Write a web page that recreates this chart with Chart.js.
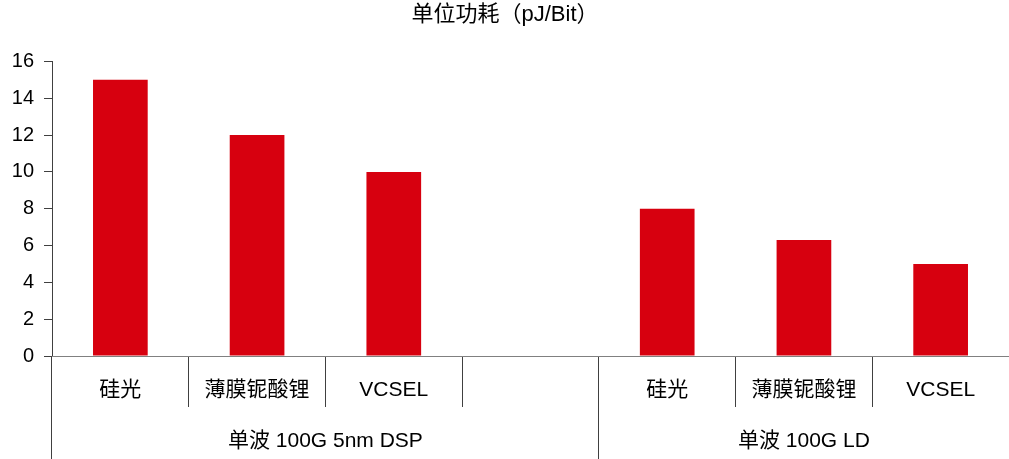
<!DOCTYPE html>
<html>
<head>
<meta charset="utf-8">
<script src="https://cdn.jsdelivr.net/npm/chart.js@4/dist/chart.umd.min.js"></script>
<style>
  html, body { margin: 0; padding: 0; background: #ffffff; }
  canvas { display: block; }
</style>
</head>
<body>
<canvas id="c" width="1009" height="459"></canvas>
<script>
// ---- data ----
const categories = ['硅光', '薄膜铌酸锂', 'VCSEL', '', '硅光', '薄膜铌酸锂', 'VCSEL'];
const powerPerBit = [15, 12, 10, null, 8, 6.3, 5];
const groupLabels = ['单波 100G 5nm DSP', '单波 100G LD'];
const groupCenters = [1.5, 5];          // category-index positions of group labels
const groupBounds = [-0.5, 3.5, 6.5];   // category-index positions of group separators
const yTicks = [0, 2, 4, 6, 8, 10, 12, 14, 16];
const chartTitle = '单位功耗（pJ/Bit）';

const FONT = "'Liberation Sans', Arial, 'Noto Sans CJK SC', sans-serif";
const LINE = '#404040';

new Chart(document.getElementById('c'), {
  type: 'bar',
  data: {
    labels: categories,
    datasets: [{
      data: powerPerBit,
      backgroundColor: '#D7000F',
      borderWidth: 0,
      barPercentage: 0.4,
      categoryPercentage: 1.0
    }]
  },
  options: {
    responsive: false,
    animation: false,
    devicePixelRatio: 1,
    layout: { padding: { left: 0, right: -1, top: 0, bottom: 0 } },
    plugins: {
      legend: { display: false },
      tooltip: { enabled: false },
      title: {
        display: true,
        text: chartTitle,
        color: '#000',
        font: { family: FONT, size: 22, weight: 'normal' },
        padding: { top: 2, bottom: 33 }
      }
    },
    scales: {
      y: {
        min: 0,
        max: 16,
        afterBuildTicks: s => { s.ticks = yTicks.map(v => ({ value: v })); },
        afterFit: s => { s.width = 52; },
        ticks: {
          color: '#000',
          font: { family: FONT, size: 20 },
          padding: 10
        },
        grid: { drawOnChartArea: false, tickLength: 8, color: LINE },
        border: { color: LINE, width: 1 }
      },
      x: {
        position: 'bottom',
        afterFit: s => { s.height = 51; },
        ticks: {
          color: '#000',
          font: { family: FONT, size: 21 },
          padding: -29,
          maxRotation: 0,
          autoSkip: false
        },
        grid: { drawOnChartArea: false, offset: true, tickLength: 51, color: LINE },
        border: { color: '#808080', width: 1 }
      },
      x2: {
        type: 'linear',
        position: 'bottom',
        offset: false,
        min: groupBounds[0],
        max: groupBounds[groupBounds.length - 1],
        afterFit: s => { s.height = 52; },
        afterBuildTicks: s => {
          const vals = groupBounds.concat(groupCenters).sort((a, b) => a - b);
          s.ticks = vals.map(v => ({ value: v === groupBounds[0] ? v - 0.001 : v }));
        },
        ticks: {
          color: '#000',
          font: { family: FONT, size: 21 },
          padding: -30,
          maxRotation: 0,
          autoSkip: false,
          callback: v => {
            const i = groupCenters.indexOf(v);
            return i >= 0 ? groupLabels[i] : '';
          }
        },
        grid: {
          drawOnChartArea: false,
          offset: false,
          tickLength: 52,
          color: ctx => (ctx.tick && groupCenters.includes(ctx.tick.value)) ? 'rgba(0,0,0,0)' : LINE
        },
        border: { display: false }
      }
    }
  }
});
</script>
</body>
</html>
